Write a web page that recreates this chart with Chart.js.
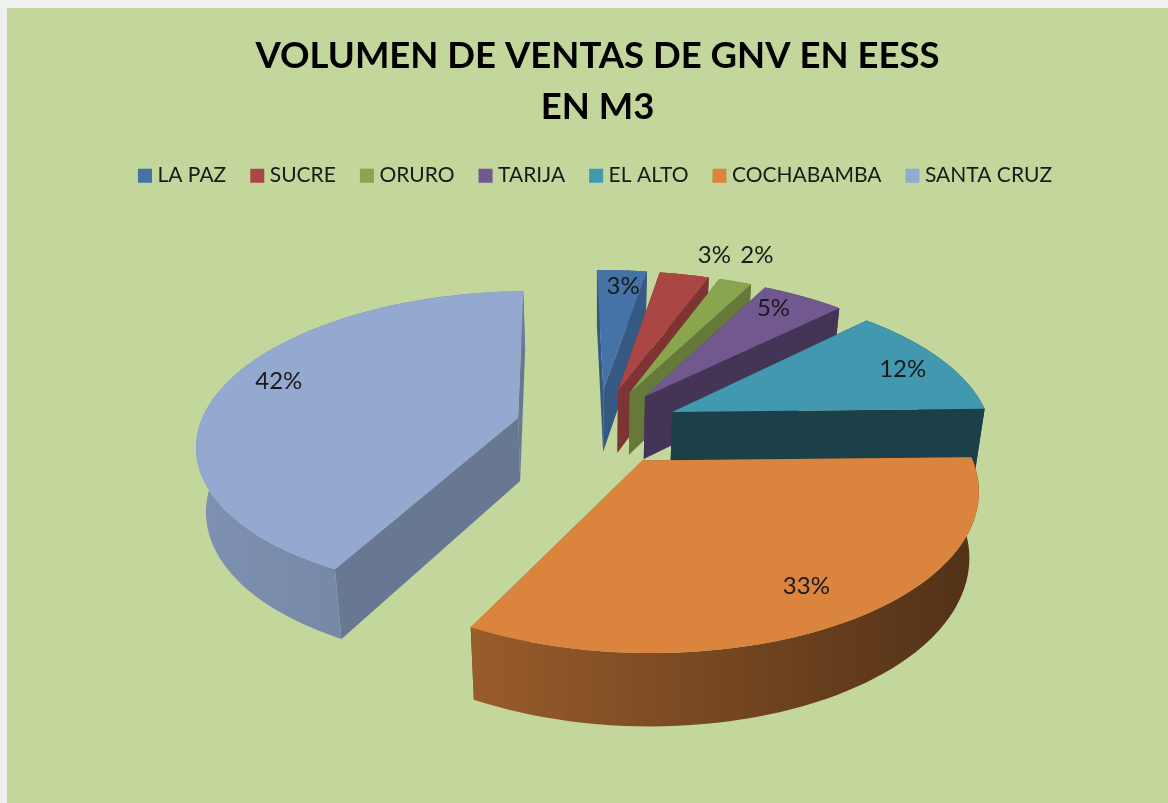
<!DOCTYPE html>
<html>
<head>
<meta charset="utf-8">
<script src="https://cdn.jsdelivr.net/npm/chart.js@4/dist/chart.umd.min.js"></script>
<style>
  html, body { margin: 0; height: 100%; background: #f0f0f0; overflow: hidden; }
  #wrap { position: absolute; left: 7px; top: 8px; width: 1161px; height: 795px; background: #c3d69b; }
</style>
</head>
<body>
<div id="wrap"><canvas id="myChart" width="1161" height="795"></canvas></div>
<script>
const categories = ['LA PAZ', 'SUCRE', 'ORURO', 'TARIJA', 'EL ALTO', 'COCHABAMBA', 'SANTA CRUZ'];
const shares = [3, 3, 2, 5, 12, 33, 42];
const sliceColors = ['#4572A7', '#AA4643', '#89A54E', '#71588F', '#4198AF', '#DB843D', '#93A9CF'];

// darkening of the flat cut faces, and of the curved rim from left to right
const wallShade = [0.78, 0.74, 0.74, 0.6, 0.42, 0.6, 0.71];
const rimShade = [[0.78, 0.78], [0.74, 0.74], [0.74, 0.74], [0.6, 0.6], [0.42, 0.42], [0.7, 0.37], [0.86, 0.74]];
// label placement: distance along the slice (1 = on the rim) and turn from its middle, in degrees
const labelRadius = [0.85, 1.22, 1.27, 0.85, 0.84, 0.81, 0.84];
const labelTurn = [0.7, 2.7, -0.4, -1.8, 1, 0.2, 3.7];
const drawOrder = [6, 0, 1, 2, 3, 4, 5];

const EXPLODE = 0.258;
const PERSPECTIVE = 0.16;
const STRETCH_X = 1.384;
const STRETCH_Y = 0.649;
const DEPTH = 0.276;
const BOTTOM_SCALE = 0.975;

function shade(hex, f) {
  const n = parseInt(hex.slice(1), 16);
  return `rgb(${(n >> 16) * f},${((n >> 8) & 255) * f},${(n & 255) * f})`;
}

// flat pie coordinates (radius 1) to the tilted view
function project(arc, wx, wy, low) {
  const R = arc.outerRadius;
  const s = 1 / (1 - PERSPECTIVE * wy);
  const f = low ? BOTTOM_SCALE : 1;
  return {
    x: arc.x + STRETCH_X * R * wx * s * f,
    y: arc.y + STRETCH_Y * R * wy * s * f + (low ? DEPTH * R * s : 0)
  };
}

function polygon(ctx, pts, fill) {
  ctx.beginPath();
  pts.forEach((p, i) => i ? ctx.lineTo(p.x, p.y) : ctx.moveTo(p.x, p.y));
  ctx.closePath();
  ctx.fillStyle = fill;
  ctx.fill();
}

const pie3d = {
  id: 'pie3d',
  beforeDatasetDraw(chart) {
    const ctx = chart.ctx;
    const arcs = chart.getDatasetMeta(0).data;
    drawOrder.forEach(i => {
      const arc = arcs[i];
      const start = arc.startAngle;
      const end = arc.endAngle;
      const mid = (start + end) / 2;
      const ax = EXPLODE * Math.cos(mid);
      const ay = EXPLODE * Math.sin(mid);
      const rim = [];
      for (let k = 0; k <= 60; k++) {
        const a = start + (end - start) * k / 60;
        rim.push([ax + Math.cos(a), ay + Math.sin(a)]);
      }
      const up = rim.map(p => project(arc, p[0], p[1], false));
      const down = rim.map(p => project(arc, p[0], p[1], true));
      const apexUp = project(arc, ax, ay, false);
      const apexDown = project(arc, ax, ay, true);
      const color = sliceColors[i];
      const wall = shade(color, wallShade[i]);

      polygon(ctx, [apexUp, up[0], down[0], apexDown], wall);
      polygon(ctx, [apexUp, up[60], down[60], apexDown], wall);

      const xs = up.concat(down).map(p => p.x);
      const grad = ctx.createLinearGradient(Math.min(...xs), 0, Math.max(...xs), 0);
      grad.addColorStop(0, shade(color, rimShade[i][0]));
      grad.addColorStop(1, shade(color, rimShade[i][1]));
      polygon(ctx, up.concat(down.slice().reverse()), grad);

      polygon(ctx, [apexUp].concat(up), color);
    });
    return false;
  },
  afterDatasetsDraw(chart) {
    const ctx = chart.ctx;
    ctx.font = '24px Lato';
    ctx.fillStyle = '#1a1a1a';
    ctx.textAlign = 'center';
    ctx.textBaseline = 'middle';
    chart.getDatasetMeta(0).data.forEach((arc, i) => {
      const mid = (arc.startAngle + arc.endAngle) / 2 + labelTurn[i] * Math.PI / 180;
      const r = EXPLODE + labelRadius[i];
      const p = project(arc, r * Math.cos(mid), r * Math.sin(mid), false);
      ctx.fillText(shares[i] + '%', p.x, p.y);
    });
  }
};

new Chart(document.getElementById('myChart'), {
  type: 'pie',
  data: {
    labels: categories,
    datasets: [{ data: shares, backgroundColor: sliceColors, borderWidth: 0 }]
  },
  options: {
    responsive: false,
    animation: false,
    events: [],
    rotation: -1.2,
    layout: { padding: { left: 20, bottom: 146 } },
    plugins: {
      title: {
        display: true,
        text: ['VOLUMEN DE VENTAS DE GNV EN EESS', 'EN M3'],
        color: '#000',
        font: { family: 'Lato', weight: 'bold', size: 36.5, lineHeight: 1.4 },
        padding: { top: 23, bottom: 3 }
      },
      legend: {
        position: 'top',
        labels: {
          color: '#1a1a1a',
          font: { family: 'Lato', size: 21 },
          usePointStyle: true,
          pointStyle: 'rect',
          boxWidth: 4,
          boxHeight: 14,
          padding: 29
        }
      },
      tooltip: { enabled: false }
    }
  },
  plugins: [pie3d]
});
</script>
</body>
</html>
